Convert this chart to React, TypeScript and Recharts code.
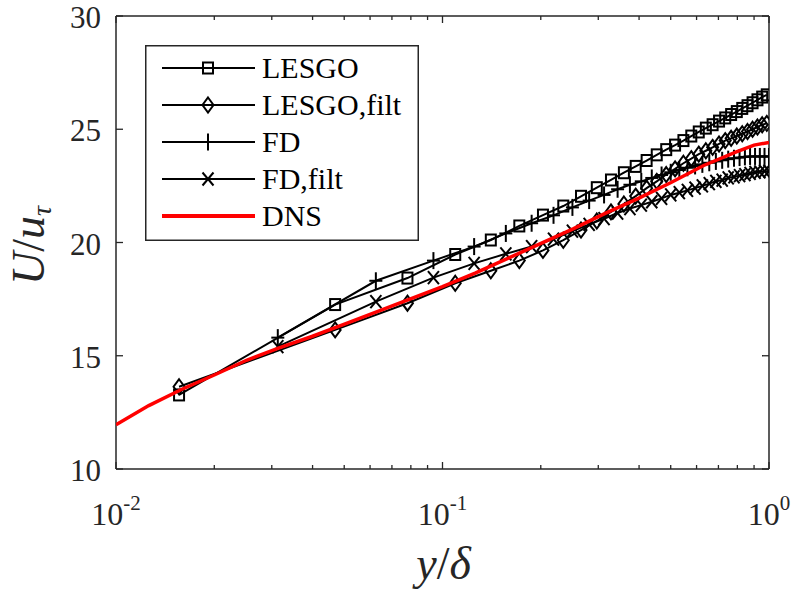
import React from 'react';
import { ScatterChart, Scatter, XAxis, YAxis, Legend, Label } from 'recharts';

const AX = '#262626';
const FONT = '"Liberation Serif", "Times New Roman", Times, serif';

// x tick values (log axis)
const xMajor = [0.01, 0.1, 1];
const xExp = ['-2', '-1', '0'];
const xMinor = [0.02, 0.03, 0.04, 0.05, 0.06, 0.07, 0.08, 0.09, 0.2, 0.3, 0.4, 0.5, 0.6, 0.7, 0.8, 0.9];
const yTicks = [10, 15, 20, 25, 30];

// LESGO grid (staggered) and FD grid
const lesgoX = [0.0156, 0.0469, 0.0781, 0.1094, 0.1406, 0.1719, 0.2031, 0.2344, 0.2656, 0.2969, 0.3281, 0.3594, 0.3906, 0.4219, 0.4531, 0.4844, 0.5156, 0.5469, 0.5781, 0.6094, 0.6406, 0.6719, 0.7031, 0.7344, 0.7656, 0.7969, 0.8281, 0.8594, 0.8906, 0.9219, 0.9531, 0.9844];
const fdX = [0.0313, 0.0625, 0.0938, 0.125, 0.1563, 0.1875, 0.2188, 0.25, 0.2813, 0.3125, 0.3438, 0.375, 0.4063, 0.4375, 0.4688, 0.5, 0.5313, 0.5625, 0.5938, 0.625, 0.6563, 0.6875, 0.7188, 0.75, 0.7813, 0.8125, 0.8438, 0.875, 0.9063, 0.9375, 0.9688, 1.0];

const lesgoY = [13.27, 17.26, 18.43, 19.47, 20.11, 20.73, 21.21, 21.61, 22.04, 22.42, 22.76, 23.08, 23.36, 23.62, 23.87, 24.1, 24.3, 24.5, 24.7, 24.88, 25.05, 25.2, 25.36, 25.5, 25.65, 25.78, 25.92, 26.04, 26.17, 26.3, 26.42, 26.52];
const lesgoFiltY = [13.63, 16.14, 17.32, 18.2, 18.75, 19.2, 19.65, 20.1, 20.55, 20.95, 21.35, 21.7, 22.05, 22.4, 22.7, 23.0, 23.25, 23.5, 23.7, 23.9, 24.05, 24.2, 24.35, 24.5, 24.6, 24.7, 24.8, 24.9, 25.0, 25.1, 25.2, 25.26];
const fdY = [15.8, 18.31, 19.2, 19.82, 20.4, 20.85, 21.2, 21.55, 21.85, 22.1, 22.35, 22.55, 22.7, 22.85, 22.98, 23.1, 23.2, 23.3, 23.38, 23.45, 23.52, 23.58, 23.63, 23.68, 23.72, 23.75, 23.78, 23.8, 23.8, 23.8, 23.8, 23.8];
const fdFiltY = [15.4, 17.39, 18.45, 19.08, 19.5, 19.82, 20.15, 20.5, 20.8, 21.05, 21.3, 21.5, 21.65, 21.8, 21.95, 22.1, 22.2, 22.3, 22.4, 22.5, 22.6, 22.7, 22.75, 22.85, 22.9, 22.95, 23.0, 23.05, 23.1, 23.12, 23.15, 23.15];

const dnsX = [0.01, 0.0126, 0.0158, 0.02, 0.0251, 0.0316, 0.0398, 0.0501, 0.0631, 0.0794, 0.1, 0.1259, 0.1585, 0.1995, 0.2512, 0.3162, 0.3981, 0.5012, 0.631, 0.7943, 0.9, 1.0];
const dnsY = [11.95, 12.8, 13.5, 14.15, 14.8, 15.35, 15.85, 16.4, 16.95, 17.5, 18.05, 18.65, 19.3, 19.95, 20.6, 21.3, 21.95, 22.65, 23.4, 24.0, 24.3, 24.42];

const seriesNames = ['LESGO', 'LESGO,filt', 'FD', 'FD,filt', 'DNS'];
const seriesMarkers = ['square', 'diamond', 'plus', 'cross', 'none'];

const zip = (xs: number[], ys: number[]) => xs.map((x, i) => ({ x, y: ys[i] }));
const lesgoData = zip(lesgoX, lesgoY);
const lesgoFiltData = zip(lesgoX, lesgoFiltY);
const fdData = zip(fdX, fdY);
const fdFiltData = zip(fdX, fdFiltY);
const dnsData = zip(dnsX, dnsY);

const xTicks = [...xMajor, ...xMinor].sort((a, b) => a - b);

function Marker({ kind, cx, cy }: { kind: string; cx: number; cy: number }) {
  const s = { stroke: '#000', strokeWidth: 2, fill: 'none' };
  if (kind === 'square') return <rect x={cx - 5} y={cy - 5.5} width={10} height={11} {...s} />;
  if (kind === 'diamond')
    return <polygon points={`${cx},${cy - 7.5} ${cx + 5.5},${cy} ${cx},${cy + 7.5} ${cx - 5.5},${cy}`} {...s} />;
  if (kind === 'plus')
    return (
      <g {...s}>
        <line x1={cx - 6.5} x2={cx + 6.5} y1={cy} y2={cy} />
        <line x1={cx} x2={cx} y1={cy - 8.5} y2={cy + 8.5} />
      </g>
    );
  if (kind === 'cross')
    return (
      <g {...s}>
        <line x1={cx - 5.5} x2={cx + 5.5} y1={cy - 6.5} y2={cy + 6.5} />
        <line x1={cx - 5.5} x2={cx + 5.5} y1={cy + 6.5} y2={cy - 6.5} />
      </g>
    );
  return <g />;
}

const BottomTick = (p: any) => {
  const { x, y, payload } = p;
  const mi = xMajor.indexOf(payload.value);
  const len = mi >= 0 ? 7 : 4;
  return (
    <g>
      <line x1={x} x2={x} y1={y} y2={y - len} stroke={AX} strokeWidth={1.3} />
      {mi >= 0 && (
        <text x={x} y={y + 56} textAnchor="middle" fontFamily={FONT} fontSize={32} fill={AX}>
          10
          <tspan dy={-15} fontSize={21}>{xExp[mi]}</tspan>
        </text>
      )}
    </g>
  );
};

const TopTick = (p: any) => {
  const { x, y, payload } = p;
  const mi = xMajor.indexOf(payload.value);
  const len = mi >= 0 ? 7 : 4;
  return <line x1={x} x2={x} y1={y} y2={y + len} stroke={AX} strokeWidth={1.3} />;
};

const LeftTick = (p: any) => {
  const { x, y, payload } = p;
  return (
    <g>
      <line x1={x} x2={x + 7} y1={y} y2={y} stroke={AX} strokeWidth={1.3} />
      <text x={x - 15} y={y + 12} textAnchor="end" fontFamily={FONT} fontSize={31} fill={AX}>
        {payload.value}
      </text>
    </g>
  );
};

const RightTick = (p: any) => {
  const { x, y } = p;
  return <line x1={x} x2={x - 7} y1={y} y2={y} stroke={AX} strokeWidth={1.3} />;
};

const XLabel = (p: any) => {
  const vb = p.viewBox || { x: 116, y: 469, width: 653, height: 126 };
  return (
    <text x={vb.x + vb.width / 2 + 1} y={vb.y + 110} textAnchor="middle" fontFamily={FONT} fontSize={46} fill={AX}>
      <tspan fontStyle="italic">y</tspan>
      <tspan>/</tspan>
      <tspan fontStyle="italic">δ</tspan>
    </text>
  );
};

const YLabel = (p: any) => {
  const vb = p.viewBox || { x: 0, y: 16, width: 116, height: 453 };
  const cy = vb.y + vb.height / 2 + 3;
  return (
    <text transform={`translate(44,${cy}) rotate(-90)`} textAnchor="middle" fontFamily={FONT} fontSize={46} fill={AX}>
      <tspan fontStyle="italic">U</tspan>
      <tspan>/</tspan>
      <tspan fontStyle="italic">u</tspan>
      <tspan fontStyle="italic" fontSize={28} dy={7}>τ</tspan>
    </text>
  );
};

const LegendBox = () => (
  <svg width={274} height={196} style={{ display: 'block', overflow: 'visible' }}>
    <rect x={0.75} y={0.75} width={272.5} height={194.5} fill="#fff" stroke={AX} strokeWidth={1.5} />
    {seriesNames.map((name, i) => {
      const cy = 23 + i * 37;
      const isDns = seriesMarkers[i] === 'none';
      return (
        <g key={name}>
          <line x1={17} x2={110} y1={cy} y2={cy} stroke={isDns ? '#ff0000' : '#000'} strokeWidth={isDns ? 4 : 2} />
          <Marker kind={seriesMarkers[i]} cx={63} cy={cy} />
          <text x={117} y={cy + 10} fontFamily={FONT} fontSize={30} fill="#000">
            {name}
          </text>
        </g>
      );
    })}
  </svg>
);

const shapeFor = (kind: string) => (props: any) => <Marker kind={kind} cx={props.cx} cy={props.cy} />;

export default function App() {
  return (
    <div style={{ position: 'absolute', left: 0, top: 0, width: 800, height: 595, background: '#fff' }}>
      <ScatterChart width={800} height={595} margin={{ top: 0, right: 0, bottom: 0, left: 0 }}>
        <XAxis
          xAxisId="b"
          dataKey="x"
          type="number"
          scale="log"
          domain={[0.01, 1]}
          allowDataOverflow
          ticks={xTicks}
          interval={0}
          height={126}
          tickSize={0}
          tickMargin={0}
          tickLine={false}
          axisLine={{ stroke: AX, strokeWidth: 1.5 }}
          tick={BottomTick}
        >
          <Label content={XLabel} />
        </XAxis>
        <XAxis
          xAxisId="t"
          orientation="top"
          dataKey="x"
          type="number"
          scale="log"
          domain={[0.01, 1]}
          allowDataOverflow
          ticks={xTicks}
          interval={0}
          height={16}
          tickSize={0}
          tickMargin={0}
          tickLine={false}
          axisLine={{ stroke: AX, strokeWidth: 1.5 }}
          tick={TopTick}
        />
        <YAxis
          yAxisId="l"
          dataKey="y"
          type="number"
          domain={[10, 30]}
          allowDataOverflow
          ticks={yTicks}
          interval={0}
          width={116}
          tickSize={0}
          tickMargin={0}
          tickLine={false}
          axisLine={{ stroke: AX, strokeWidth: 1.5 }}
          tick={LeftTick}
        >
          <Label content={YLabel} />
        </YAxis>
        <YAxis
          yAxisId="r"
          orientation="right"
          dataKey="y"
          type="number"
          domain={[10, 30]}
          allowDataOverflow
          ticks={yTicks}
          interval={0}
          width={31}
          tickSize={0}
          tickMargin={0}
          tickLine={false}
          axisLine={{ stroke: AX, strokeWidth: 1.5 }}
          tick={RightTick}
        />
        <Scatter
          xAxisId="t"
          yAxisId="r"
          data={dnsData}
          shape={() => <g />}
          legendType="none"
          isAnimationActive={false}
        />
        <Scatter
          name={seriesNames[0]}
          xAxisId="b"
          yAxisId="l"
          data={lesgoData}
          line={{ stroke: '#000', strokeWidth: 2 }}
          shape={shapeFor('square')}
          legendType="none"
          isAnimationActive={false}
        />
        <Scatter
          name={seriesNames[1]}
          xAxisId="b"
          yAxisId="l"
          data={lesgoFiltData}
          line={{ stroke: '#000', strokeWidth: 2 }}
          shape={shapeFor('diamond')}
          legendType="none"
          isAnimationActive={false}
        />
        <Scatter
          name={seriesNames[2]}
          xAxisId="b"
          yAxisId="l"
          data={fdData}
          line={{ stroke: '#000', strokeWidth: 2 }}
          shape={shapeFor('plus')}
          legendType="none"
          isAnimationActive={false}
        />
        <Scatter
          name={seriesNames[3]}
          xAxisId="b"
          yAxisId="l"
          data={fdFiltData}
          line={{ stroke: '#000', strokeWidth: 2 }}
          shape={shapeFor('cross')}
          legendType="none"
          isAnimationActive={false}
        />
        <Scatter
          name={seriesNames[4]}
          xAxisId="b"
          yAxisId="l"
          data={dnsData}
          line={{ stroke: '#ff0000', strokeWidth: 3.5 }}
          shape={() => <g />}
          legendType="none"
          isAnimationActive={false}
        />
        <Legend
          layout="vertical"
          align="center"
          verticalAlign="middle"
          content={LegendBox}
          wrapperStyle={{ position: 'absolute', left: 145, top: 45, width: 274, height: 196, margin: 0, padding: 0, lineHeight: 0 }}
        />
      </ScatterChart>
    </div>
  );
}
